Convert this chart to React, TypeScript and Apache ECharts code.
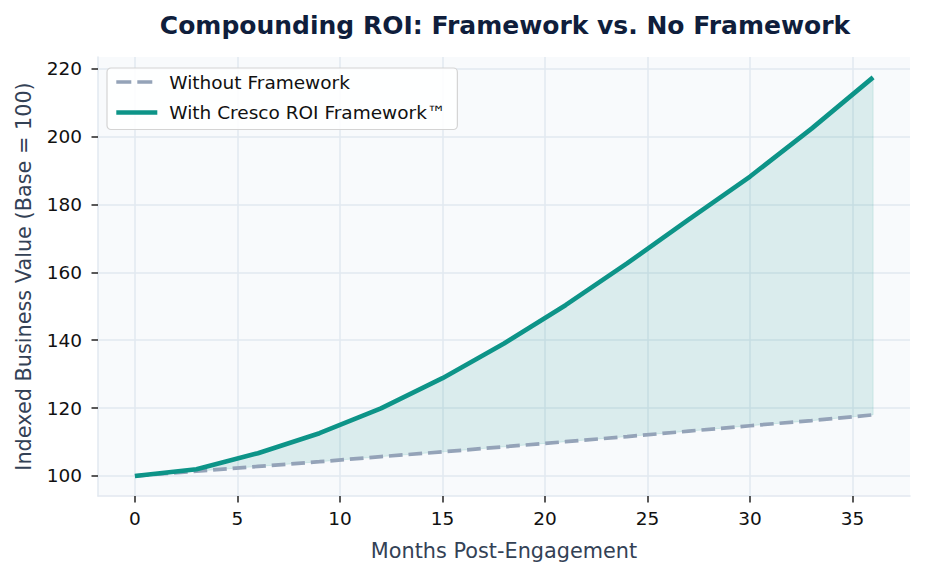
import React, { useEffect, useRef } from "react";
import * as echarts from "echarts";

const months = [0, 3, 6, 9, 12, 15, 18, 21, 24, 27, 30, 33, 36];
const withoutFramework = [100, 101.4, 102.8, 104.2, 105.7, 107.1, 108.6, 110.1, 111.6, 113.2, 114.8, 116.3, 118.0];
const withFramework = [100, 102.0, 106.7, 112.6, 119.9, 128.8, 139.0, 150.3, 162.6, 175.5, 188.2, 202.3, 217.4];
const xTicks = [0, 5, 10, 15, 20, 25, 30, 35];
const yTicks = [100, 120, 140, 160, 180, 200, 220];

const seriesNames = ["Without Framework", "With Cresco ROI Framework™"];
const FONT = "DejaVu Sans";

export default function App() {
  const ref = useRef<HTMLDivElement>(null);
  useEffect(() => {
    if (!ref.current) return;
    const chart = echarts.init(ref.current, undefined, { renderer: "svg" });
    const pair = (vals: number[]) => months.map((m, i) => [m, vals[i]]);
    const band = months.map((m, i) => [m, withoutFramework[i], withFramework[i]]);
    chart.setOption({
      animation: false,
      backgroundColor: "#ffffff",
      textStyle: { fontFamily: FONT },
      title: {
        text: "Compounding ROI: Framework vs. No Framework",
        left: 500,
        top: 8,
        textAlign: "center",
        textStyle: { fontFamily: FONT, fontSize: 25, fontWeight: "bold", color: "#0f1e3c" },
      },
      grid: {
        left: 98,
        right: 16,
        top: 57,
        bottom: 79,
        show: true,
        backgroundColor: "#f8fafc",
        borderWidth: 0,
        containLabel: false,
        outerBoundsMode: "none",
      },
      legend: {
        data: [
          { name: seriesNames[0], lineStyle: { width: 3.7, type: [15, 6] } },
          { name: seriesNames[1], lineStyle: { width: 4.6 } },
        ],
        orient: "vertical",
        left: 107,
        top: 68,
        itemWidth: 41,
        itemHeight: 14,
        itemGap: 11.5,
        padding: [4.5, 12, 7.5, 7],
        backgroundColor: "rgba(255,255,255,0.85)",
        borderColor: "#d4d4d4",
        borderWidth: 1.2,
        borderRadius: 4,
        itemStyle: { opacity: 0 },
        textStyle: { fontFamily: FONT, fontSize: 18.5, color: "#111111", padding: [0, 0, 0, 7] },
      },
      xAxis: {
        type: "value",
        min: -1.8,
        max: 37.8,
        name: "Months Post-Engagement",
        nameLocation: "middle",
        nameGap: 44,
        nameTextStyle: { fontFamily: FONT, fontSize: 20.8, color: "#334155" },
        axisLine: { show: true, onZero: false, lineStyle: { color: "#e2e8f0", width: 1.5 } },
        axisTick: { show: true, length: 6.5, lineStyle: { color: "#222222", width: 1.5 }, customValues: xTicks },
        axisLabel: { customValues: xTicks, fontFamily: FONT, fontSize: 18.5, color: "#111111", margin: 13 },
        splitLine: { show: true, lineStyle: { color: "#e2e8f0", width: 1.5 } },
      },
      yAxis: {
        type: "value",
        min: 94.1,
        max: 223.4,
        name: "Indexed Business Value (Base = 100)",
        nameLocation: "middle",
        nameGap: 64,
        nameRotate: 90,
        nameTextStyle: { fontFamily: FONT, fontSize: 20.8, color: "#334155" },
        axisLine: { show: true, onZero: false, lineStyle: { color: "#e2e8f0", width: 1.5 } },
        axisTick: { show: true, length: 6.5, lineStyle: { color: "#222222", width: 1.5 }, customValues: yTicks },
        axisLabel: { customValues: yTicks, fontFamily: FONT, fontSize: 18.5, color: "#111111", margin: 16 },
        splitLine: { show: true, lineStyle: { color: "#e2e8f0", width: 1.5 } },
      },
      series: [
        {
          name: "band",
          type: "custom",
          data: band,
          encode: { x: 0, y: [1, 2] },
          silent: true,
          z: 1,
          renderItem: (params: any, api: any) => {
            if (params.dataIndex !== 0) return null;
            const top = months.map((m, i) => api.coord([m, withFramework[i]]));
            const bottom = months.map((m, i) => api.coord([m, withoutFramework[i]])).reverse();
            return {
              type: "polygon",
              shape: { points: top.concat(bottom) },
              style: { fill: "rgba(13,148,136,0.13)", stroke: "rgba(13,148,136,0.13)", lineWidth: 1 },
            };
          },
        },
        {
          name: seriesNames[0],
          type: "line",
          data: pair(withoutFramework),
          symbol: "none",
          color: "#94a3b8",
          lineStyle: { color: "#94a3b8", width: 3.7, type: [13.7, 5.9] },
          z: 3,
        },
        {
          name: seriesNames[1],
          type: "line",
          data: pair(withFramework),
          symbol: "none",
          color: "#0d9488",
          lineStyle: { color: "#0d9488", width: 4.6 },
          z: 4,
        },
      ],
    });
    return () => chart.dispose();
  }, []);
  return <div ref={ref} style={{ position: "fixed", left: 0, top: 0, width: 926, height: 575 }} />;
}
